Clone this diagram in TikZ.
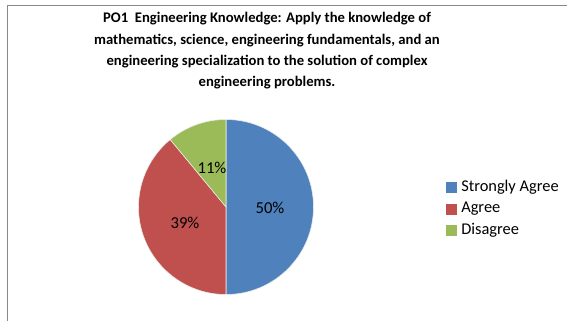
\documentclass[tikz,border=0pt]{standalone}
\usepackage{amsmath}
\usepackage{xcolor}
\usepackage{fontspec}
\setmainfont{Carlito}
\usepackage{tikz}

\definecolor{sliceblue}{RGB}{79,129,189}
\definecolor{slicered}{RGB}{192,80,77}
\definecolor{slicegreen}{RGB}{155,187,89}
\definecolor{framegray}{RGB}{137,137,137}

\begin{document}
\begin{tikzpicture}[x=0.75pt,y=0.75pt,yscale=-1,xscale=1]
\useasboundingbox (0,0) rectangle (567,321); %picture is 567 x 321

%Shape: Frame (top and left only)
\draw [color=framegray ,line width=0.75] (7,321) -- (7,6) -- (567,6) ;

%Pie centre
\coordinate (pc) at (226,207);
%Shape: Slice 50% [blue]
\draw [color=white!85!gray ,fill=sliceblue ,line width=0.4]  (pc) -- ++(-90:87.5) arc [start angle=-90, end angle=90, radius=87.5] -- cycle ;
%Shape: Slice 39% [red]
\draw [color=white!85!gray ,fill=slicered ,line width=0.4]  (pc) -- ++(90:87.5) arc [start angle=90, end angle=230.4, radius=87.5] -- cycle ;
%Shape: Slice 11% [green]
\draw [color=white!85!gray ,fill=slicegreen ,line width=0.4]  (pc) -- ++(230.4:87.5) arc [start angle=230.4, end angle=270, radius=87.5] -- cycle ;

% Text Node
\draw (267,51) node [anchor=center][inner sep=0pt] [align=center ,font=\fontsize{11}{16}\selectfont\bfseries] (title) {PO1\ \ Engineering Knowledge: Apply the knowledge of\\mathematics, science, engineering fundamentals, and an\\engineering specialization to the solution of complex\\engineering problems.};
% Text Node
\draw (270,208) node [inner sep=0.75pt] [font=\fontsize{12.5}{14}\selectfont] (lab50) {50\%};
% Text Node
\draw (185,223) node [inner sep=0.75pt] [font=\fontsize{12.5}{14}\selectfont] (lab39) {39\%};
% Text Node
\draw (212,168) node [inner sep=0.75pt] [font=\fontsize{12.5}{14}\selectfont] (lab11) {11\%};

%Legend keys
\draw (451.5,187) node [fill=sliceblue ,minimum size=8.25pt ,inner sep=0pt] (keyblue) {};
\draw (451.5,209) node [fill=slicered ,minimum size=8.25pt ,inner sep=0pt] (keyred) {};
\draw (451.5,230) node [fill=slicegreen ,minimum size=8.25pt ,inner sep=0pt] (keygreen) {};
% Text Node
\draw (461,187) node [anchor=west][inner sep=0pt] [font=\fontsize{12.3}{14}\selectfont] (txtblue) {Strongly Agree};
% Text Node
\draw (461,209) node [anchor=west][inner sep=0pt] [font=\fontsize{12.3}{14}\selectfont] (txtred) {Agree};
% Text Node
\draw (461,230) node [anchor=west][inner sep=0pt] [font=\fontsize{12.3}{14}\selectfont] (txtgreen) {Disagree};
\end{tikzpicture}
\end{document}
